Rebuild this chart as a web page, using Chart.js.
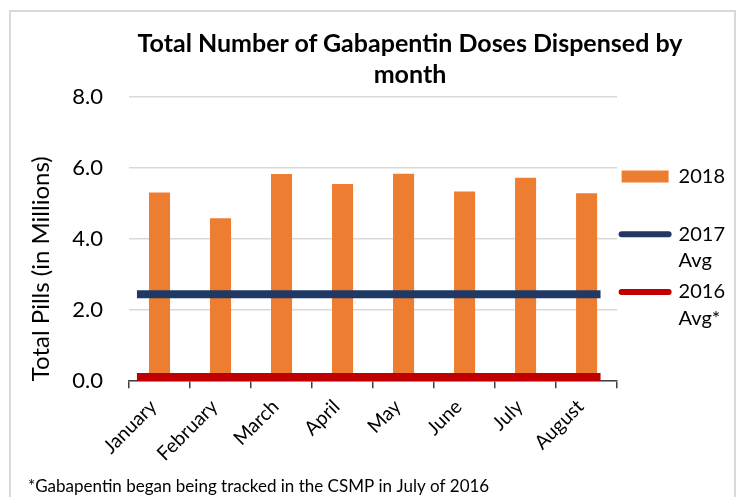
<!DOCTYPE html>
<html>
<head>
<meta charset="utf-8">
<script src="https://cdn.jsdelivr.net/npm/chart.js@4.4.1/dist/chart.umd.min.js"></script>
<style>
  html, body { margin: 0; padding: 0; background: #ffffff; width: 743px; height: 497px; overflow: hidden; }
  #frame { position: absolute; left: 9px; top: 10px; width: 723px; height: 500px; border: 2px solid #d9d9d9; box-sizing: content-box; }
  #title { position: absolute; left: 0; width: 820px; top: 27px; text-align: center; font-family: Lato, "Noto Sans", sans-serif; font-weight: bold; font-size: 25px; line-height: 31px; color: #000; }
  #c { position: absolute; left: 0; top: 0; }
</style>
</head>
<body>
<div id="frame"></div>
<canvas id="c" width="743" height="497"></canvas>
<div id="title">Total Number of Gabapentin Doses Dispensed by<br>month</div>
<script>
const months = ['January', 'February', 'March', 'April', 'May', 'June', 'July', 'August'];
const doses2018 = [5.31, 4.59, 5.83, 5.55, 5.84, 5.34, 5.73, 5.29];
const avg2017 = 2.45;
const avg2016 = 0.12;
const yTicks = [0, 2, 4, 6, 8];
const seriesNames = ['2018', '2017 Avg', '2016 Avg*'];
const legendLines = [['2018', ''], ['2017', 'Avg'], ['2016', 'Avg*']];
const footnote = '*Gabapentin began being tracked in the CSMP in July of 2016';
const yTitle = 'Total Pills (in Millions)';

const FONT = 'Lato, "Noto Sans", sans-serif';

const flatLine = v => months.map((m, i) => ({ x: i, y: v }));

new Chart(document.getElementById('c'), {
  type: 'bar',
  data: {
    labels: months,
    datasets: [
      {
        type: 'bar',
        label: seriesNames[0],
        data: doses2018,
        xAxisID: 'x',
        yAxisID: 'y',
        backgroundColor: '#ED7D31',
        borderWidth: 0,
        barPercentage: 0.345,
        categoryPercentage: 1.0,
        grouped: false,
        order: 3
      },
      {
        type: 'line',
        label: seriesNames[1],
        data: flatLine(avg2017),
        xAxisID: 'xLine',
        yAxisID: 'y',
        borderColor: '#203864',
        backgroundColor: '#203864',
        borderWidth: 8,
        borderCapStyle: 'butt',
        pointRadius: 0,
        fill: false,
        order: 1
      },
      {
        type: 'line',
        label: seriesNames[2],
        data: flatLine(avg2016),
        xAxisID: 'xLine',
        yAxisID: 'y',
        borderColor: '#C00000',
        backgroundColor: '#C00000',
        borderWidth: 8,
        borderCapStyle: 'butt',
        pointRadius: 0,
        fill: false,
        order: 2
      }
    ]
  },
  options: {
    responsive: false,
    animation: false,
    devicePixelRatio: 1,
    layout: { padding: { top: 97, left: 28, right: 8, bottom: 0 } },
    scales: {
      x: {
        type: 'category',
        offset: true,
        grid: { display: true, drawOnChartArea: false, drawTicks: true, tickLength: 7, color: '#404040', lineWidth: 1.5, offset: true },
        border: { display: true, color: '#404040', width: 1.5 },
        ticks: { color: '#000', font: { family: FONT, size: 19.5 }, minRotation: 45, maxRotation: 45, padding: 7, labelOffset: -6, autoSkip: false }
      },
      xLine: {
        type: 'linear',
        axis: 'x',
        display: false,
        position: 'bottom',
        offset: false,
        grid: { offset: false },
        min: -0.12,
        max: 7.25
      },
      y: {
        min: 0,
        max: 8,
        afterBuildTicks: axis => { axis.ticks = yTicks.map(v => ({ value: v })); },
        afterFit: axis => { axis.width = 101; },
        grid: { color: '#d9d9d9', lineWidth: 1.5, drawTicks: false },
        border: { display: false },
        ticks: { color: '#000', font: { family: FONT, size: 22 }, padding: 26, callback: v => Number(v).toFixed(1) },
        title: { display: true, align: 'start', text: yTitle, color: '#000', font: { family: FONT, size: 24, lineHeight: 1.1 }, padding: { top: 0, bottom: 14 } }
      }
    },
    plugins: {
      legend: {
        position: 'right',
        align: 'start',
        fullSize: false,
        title: { display: true, text: '', font: { size: 10, lineHeight: 1.2 }, padding: { top: 53, bottom: 0 } },
        labels: {
          usePointStyle: true,
          pointStyleWidth: 47,
          boxHeight: 12,
          padding: 4.5,
          color: '#000',
          font: { family: FONT, size: 20, lineHeight: 1.33 },
          sort: (a, b) => a.datasetIndex - b.datasetIndex,
          generateLabels: chart => chart.data.datasets.map((ds, i) => {
            const isBar = ds.type === 'bar';
            return {
              text: legendLines[i],
              datasetIndex: i,
              fillStyle: ds.backgroundColor,
              strokeStyle: ds.borderColor,
              lineWidth: isBar ? 0 : 6,
              lineCap: 'round',
              pointStyle: isBar ? 'rect' : 'line',
              fontColor: '#000',
              hidden: false
            };
          })
        }
      },
      subtitle: {
        display: true,
        position: 'bottom',
        align: 'start',
        text: footnote,
        color: '#000',
        font: { family: FONT, size: 17, weight: 'normal', lineHeight: 1.2 },
        padding: { top: 4, bottom: 0 }
      },
      title: { display: false },
      tooltip: { enabled: false }
    }
  }
});
</script>
</body>
</html>
